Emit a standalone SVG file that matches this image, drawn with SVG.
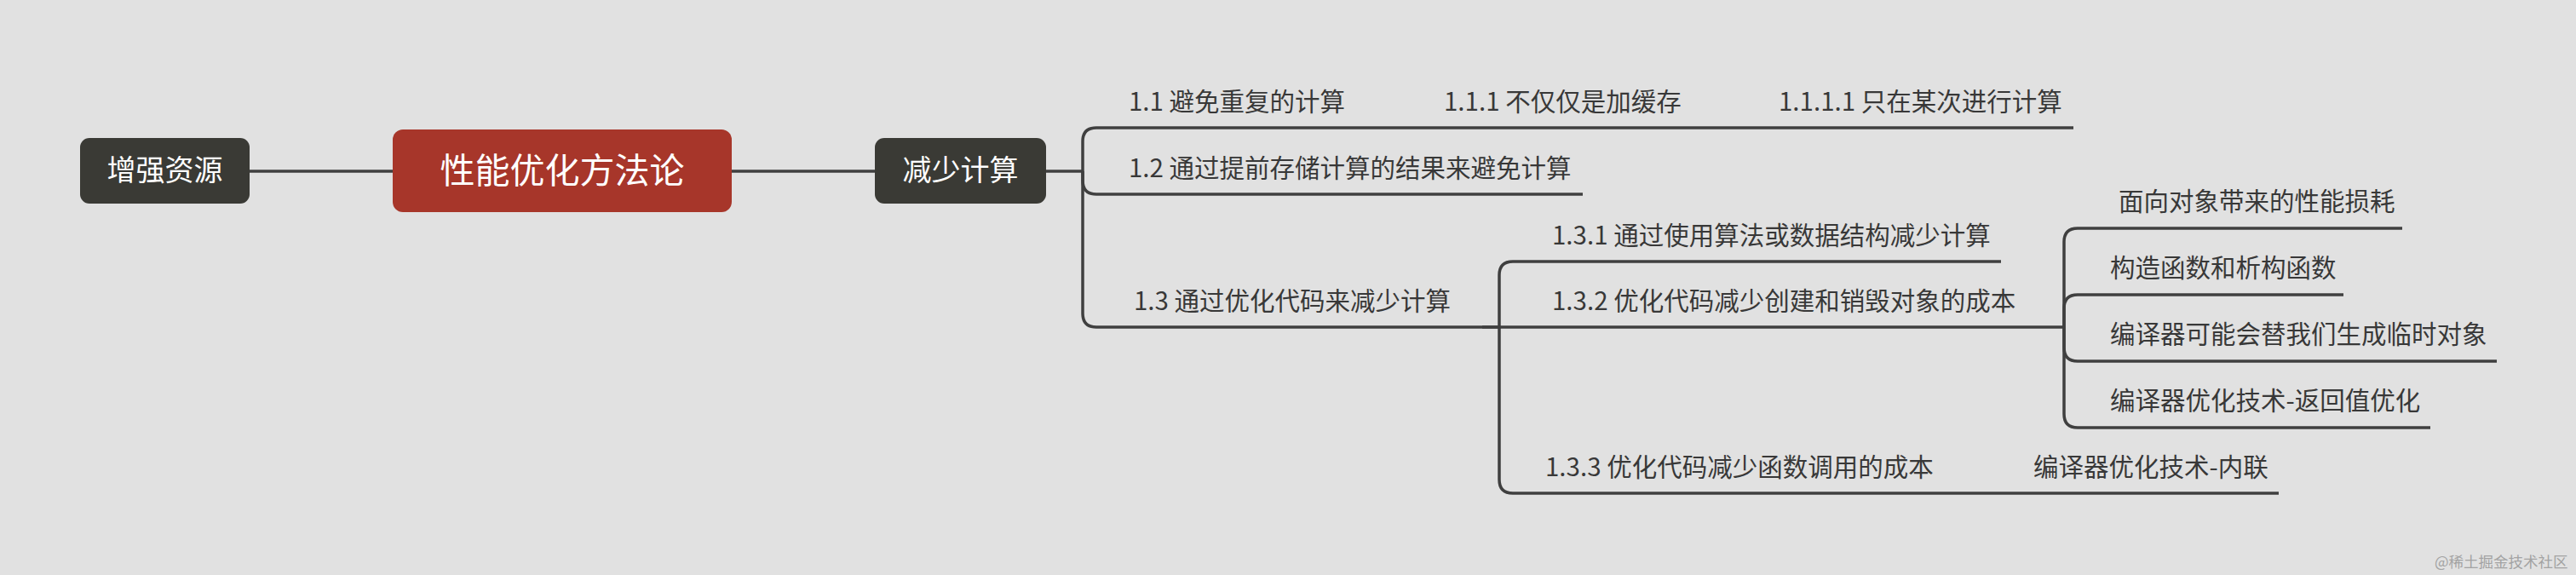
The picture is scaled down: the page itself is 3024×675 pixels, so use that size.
<svg xmlns="http://www.w3.org/2000/svg" width="3024" height="675" viewBox="0 0 3024 675">
<style>
.bg{fill:#e1e1e1}
.box{fill:#3a3a35}
.root{fill:#a7362a}
.bt{font-family:"Noto Sans CJK SC","Noto Sans",sans-serif;fill:#ffffff;text-anchor:middle}
.t{font-family:"Noto Sans CJK SC","Noto Sans",sans-serif;font-size:29.5px;fill:#383838}
.ln{fill:none;stroke:#3f3f3f;stroke-width:3.5;stroke-linecap:butt}
.wm{font-family:"Noto Sans CJK SC",serif;font-size:17.5px;fill:#a3a3a3}
</style>
<rect class="bg" x="0" y="0" width="3024" height="675"/>
<g id="connectors">
<path class="ln" d="M293,201 H461"/>
<path class="ln" d="M859,201 H1027"/>
<path class="ln" d="M1228,201 H1271"/>
<path class="ln" d="M1271,201 V166 Q1271,150 1287,150"/>
<path class="ln" d="M1271,201 V212 Q1271,228 1287,228"/>
<path class="ln" d="M1271,201 V368 Q1271,384 1287,384"/>
<path class="ln" d="M1600,150 H1660"/>
<path class="ln" d="M1995,150 H2055"/>
<path class="ln" d="M1740,384 H1760 V323 Q1760,307 1776,307"/>
<path class="ln" d="M1740,384 H1790"/>
<path class="ln" d="M1760,384 V563 Q1760,579 1776,579"/>
<path class="ln" d="M2400,384 H2423"/>
<path class="ln" d="M2423,384 V284 Q2423,268 2439,268"/>
<path class="ln" d="M2423,384 V362 Q2423,346 2439,346"/>
<path class="ln" d="M2423,384 V408 Q2423,424 2439,424"/>
<path class="ln" d="M2423,384 V486 Q2423,502 2439,502"/>
<path class="ln" d="M2300,579 H2350"/>
</g>
<g id="n-zengqiang">
<rect class="box" x="94" y="162" width="199" height="77" rx="11"/>
<text class="bt" x="193.5" y="212" font-size="34">增强资源</text>
</g>
<g id="n-root">
<rect class="root" x="461" y="152" width="398" height="97" rx="12"/>
<text class="bt" x="660" y="215" font-size="41">性能优化方法论</text>
</g>
<g id="n-jianshao">
<rect class="box" x="1027" y="162" width="201" height="77" rx="11"/>
<text class="bt" x="1127.5" y="212" font-size="34">减少计算</text>
</g>
<g id="n-1-1">
<path class="ln" d="M1287,150 H1600"/>
<text class="t" x="1325" y="130">1.1 避免重复的计算</text>
</g>
<g id="n-1-1-1">
<path class="ln" d="M1660,150 H1995"/>
<text class="t" x="1695" y="130">1.1.1 不仅仅是加缓存</text>
</g>
<g id="n-1-1-1-1">
<path class="ln" d="M2055,150 H2434"/>
<text class="t" x="2088" y="130">1.1.1.1 只在某次进行计算</text>
</g>
<g id="n-1-2">
<path class="ln" d="M1287,228 H1858"/>
<text class="t" x="1325" y="208">1.2 通过提前存储计算的结果来避免计算</text>
</g>
<g id="n-1-3">
<path class="ln" d="M1287,384 H1740"/>
<text class="t" x="1331" y="364">1.3 通过优化代码来减少计算</text>
</g>
<g id="n-1-3-1">
<path class="ln" d="M1776,307 H2349"/>
<text class="t" x="1822" y="287">1.3.1 通过使用算法或数据结构减少计算</text>
</g>
<g id="n-1-3-2">
<path class="ln" d="M1790,384 H2400"/>
<text class="t" x="1822" y="364">1.3.2 优化代码减少创建和销毁对象的成本</text>
</g>
<g id="n-1-3-3">
<path class="ln" d="M1776,579 H2300"/>
<text class="t" x="1814" y="559">1.3.3 优化代码减少函数调用的成本</text>
</g>
<g id="n-neilian">
<path class="ln" d="M2350,579 H2675"/>
<text class="t" x="2387" y="559">编译器优化技术-内联</text>
</g>
<g id="n-mianxiang">
<path class="ln" d="M2439,268 H2820"/>
<text class="t" x="2487" y="247">面向对象带来的性能损耗</text>
</g>
<g id="n-gouzao">
<path class="ln" d="M2439,346 H2751"/>
<text class="t" x="2477" y="325">构造函数和析构函数</text>
</g>
<g id="n-linshi">
<path class="ln" d="M2439,424 H2931"/>
<text class="t" x="2477" y="403">编译器可能会替我们生成临时对象</text>
</g>
<g id="n-fanhui">
<path class="ln" d="M2439,502 H2853"/>
<text class="t" x="2477" y="481">编译器优化技术-返回值优化</text>
</g>
<text class="wm" x="2858" y="666">@稀土掘金技术社区</text>
</svg>
